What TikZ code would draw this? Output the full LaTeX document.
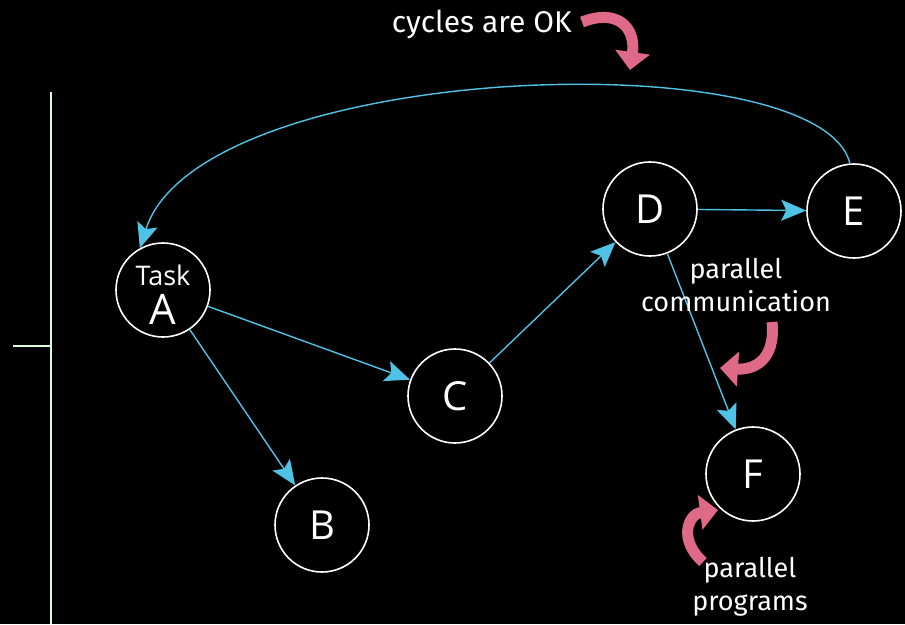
\documentclass[tikz,border=0pt]{standalone}
\usepackage{fontspec}
\setmainfont{Open Sans}
\newfontfamily\handfont{Fira Sans}
\usetikzlibrary{arrows.meta}
\definecolor{edgeblue}{HTML}{4EC3E6}
\definecolor{pinkarrow}{HTML}{DE6A88}
\tikzset{
  task/.style={circle, draw=white, line width=1.6pt, fill=black, minimum size=94pt, inner sep=0pt, text=white, font=\fontsize{40}{40}\selectfont},
  edge/.style={draw=edgeblue, line width=1.4pt, -{Stealth[length=25pt, width=21pt, inset=5pt]}},
  note/.style={text=white, font=\handfont\fontsize{27}{33}\selectfont, align=center, inner sep=0pt},
  pinkcurve/.style={draw=pinkarrow, line width=11pt, -{Triangle[length=18pt, width=34pt]}},
  axis/.style={draw=white!85!green, line width=1.2pt}
}
\begin{document}
\begin{tikzpicture}[x=1pt, y=-1pt]
\fill[black] (0,0) rectangle (905,624);
\useasboundingbox (0,0) rectangle (905,624);
% axis
\coordinate (ax1) at (51,92);
\coordinate (ax2) at (51,624);
\coordinate (tk1) at (13,346);
\coordinate (tk2) at (51,346);
\draw[axis] (ax1) -- (ax2);
\draw[axis] (tk1) -- (tk2);
% nodes
\node[task] (A) at (163,290) {};
\node[text=white, font=\fontsize{27}{27}\selectfont, inner sep=0pt] (Atask) at (163,275) {Task};
\node[text=white, font=\fontsize{42}{42}\selectfont, inner sep=0pt] (Alabel) at (163,309) {A};
\node[task] (B) at (322,525) {B};
\node[task] (C) at (455,396) {C};
\node[task] (D) at (650,209) {D};
\node[task] (E) at (854,211) {E};
\node[task] (F) at (753,474) {F};
% edges
\draw[edge] (A) -- (C);
\draw[edge] (A) -- (B);
\draw[edge] (C) -- (D);
\draw[edge] (D) -- (E);
\draw[edge] (D) -- (F);
\draw[edge] (E.95) .. controls (820,40) and (200,60) .. (A.119);
% notes
\node[note, anchor=east, font=\handfont\fontsize{30}{33}\selectfont] (cyc) at (572,24) {cycles are OK};
\node[note] (pc) at (736,285) {parallel\\communication};
\node[note] (pp) at (750,587) {parallel\\programs};
% pink arrows
\coordinate (p1s) at (582,22);
\coordinate (p1e) at (630,70);
\draw[pinkcurve] (p1s) .. controls (618,8) and (636,28) .. (p1e);
\coordinate (p2s) at (772,322);
\coordinate (p2e) at (720,368);
\draw[pinkcurve] (p2s) .. controls (776,362) and (752,370) .. (p2e);
\coordinate (p3s) at (703,562);
\coordinate (p3e) at (718,510);
\draw[pinkcurve] (p3s) .. controls (678,540) and (688,514) .. (p3e);
\end{tikzpicture}
\end{document}
